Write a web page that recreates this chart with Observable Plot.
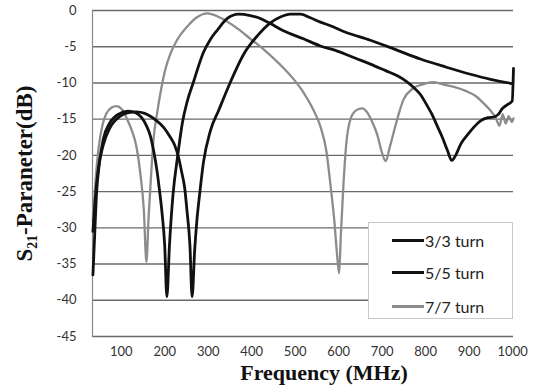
<!DOCTYPE html>
<html>
<head>
<meta charset="utf-8">
<script src="https://cdn.jsdelivr.net/npm/d3@7"></script>
<script src="https://cdn.jsdelivr.net/npm/@observablehq/plot@0.6"></script>
<style>
  html, body { margin: 0; padding: 0; background: #fff; }
  #chart { position: relative; width: 540px; height: 391px; }
  #legend {
    position: absolute; left: 368px; top: 222px; width: 145px; height: 97px;
    background: #fff; border: 1px solid #c8c8c8; box-sizing: border-box;
    font-family: Lato, "Open Sans", sans-serif; font-size: 16px; color: #222;
  }
  #legend .item { position: absolute; left: 23px; height: 20px; display: flex; align-items: center; }
  #legend .sw { width: 32px; height: 3px; margin-right: 1px; }
</style>
</head>
<body>
<div id="chart"></div>
<script>
// ---- data (frequency in MHz, S21 in dB) ----
const seriesNames = ["3/3 turn", "5/5 turn", "7/7 turn"];
const seriesColors = ["#111111", "#111111", "#8c8c8c"];

const f77 = [35,41,48,57,66,78,89,101,112,124,135,144,152,158,163,169,174,183,193,202,213,229,252,275,298,328,363,397,432,466,494,519,540,558,572,581,590,596,601,605,611,619,632,646,655,666,678,689,698,708,717,731,749,770,793,818,846,869,892,915,933,949,961,970,977,984,991,998,1002];
const s77 = [-29,-23.5,-19,-15.8,-14.2,-13.4,-13.2,-13.6,-14.8,-16.5,-18.8,-22.5,-27.5,-34.7,-28.5,-22.5,-18,-14,-10.5,-8,-6,-4,-2.2,-0.9,-0.4,-1.0,-2.3,-3.9,-5.6,-7.5,-9.3,-11.3,-13.5,-16,-19.5,-24,-29,-33.5,-36.3,-31,-24,-17.5,-14.3,-13.6,-13.5,-14.1,-15.5,-17.2,-19.3,-20.8,-19,-15.8,-12.3,-10.8,-10.2,-9.9,-10.3,-10.6,-11.1,-11.8,-12.8,-13.8,-14.8,-15.9,-14.3,-15.6,-14.6,-15.4,-14.9];

const f55 = [35,39,43,50,59,73,94,116,133,147,158,167,175,182,188,194,200,205,211,219,230,241,252,266,289,305,321,344,370,397,420,443,473,519,558,597,639,673,708,735,754,772,788,804,816,827,839,850,860,869,881,897,911,927,943,957,966,977,988,999,1002];
const s55 = [-36.5,-31,-25.5,-21,-17.7,-15.6,-14.3,-13.9,-14.1,-14.8,-15.9,-17.3,-19.5,-22,-24.8,-28,-32.4,-39.5,-32.4,-25.5,-20,-15.4,-12.5,-9.9,-5.8,-4.0,-2.7,-1.1,-0.5,-0.7,-1.1,-1.8,-2.8,-3.9,-4.9,-5.6,-6.6,-7.4,-8.3,-9.0,-9.7,-10.6,-11.6,-13.2,-14.5,-16,-17.6,-19.3,-20.7,-20,-18.4,-17.1,-16.1,-15.2,-14.8,-14.7,-14.4,-13.5,-13,-12.5,-8];

const f33 = [35,39,47,59,74,97,117,135,154,167,181,197,213,223,232,239,246,251,258,263,269,274,281,289,305,324,351,381,413,443,466,489,512,535,558,581,616,673,731,788,846,903,949,1000];
const s33 = [-30.5,-27,-22,-18.5,-16.2,-14.6,-14.1,-14.0,-14.2,-14.6,-15.2,-16.1,-17.5,-18.6,-20.3,-22.3,-24.5,-27.5,-32.4,-39.5,-33,-29,-25,-21,-16.6,-13.8,-9.9,-6.1,-3.5,-1.7,-0.9,-0.5,-0.5,-1.0,-1.6,-2.1,-3.0,-4.1,-5.4,-6.7,-7.8,-8.8,-9.5,-10.1];

const xTicks = [100,200,300,400,500,600,700,800,900,1000];
const yTicks = [0,-5,-10,-15,-20,-25,-30,-35,-40,-45];
const xLabel = "Frequency (MHz)";
const yLabel = "S₂₁-Paraneter(dB)";

const toRows = (fs, ss, name) => fs.map((f, i) => ({f, s: ss[i], name}));
const d33 = toRows(f33, s33, seriesNames[0]);
const d55 = toRows(f55, s55, seriesNames[1]);
const d77 = toRows(f77, s77, seriesNames[2]);

const chart = Plot.plot({
  width: 540, height: 391,
  marginLeft: 92, marginRight: 27, marginTop: 10, marginBottom: 55,
  x: {domain: [34, 1002]},
  y: {domain: [-45, 0]},
  style: {fontFamily: "Lato, sans-serif", fontSize: "13px", color: "#333", background: "#fff"},
  marks: [
    Plot.gridY(yTicks, {stroke: "#6a6a6a", strokeOpacity: 1, strokeWidth: 1.4}),
    Plot.frame({anchor: "left", stroke: "#8a8a8a", strokeWidth: 1.2}),
    Plot.axisY(yTicks, {tickSize: 0, tickPadding: 16, label: null, fill: "#333", tickFormat: d => String(d)}),
    Plot.axisX(xTicks, {tickSize: 0, tickPadding: 10, label: null, fill: "#333", tickFormat: d => String(d)}),
    Plot.line(d77, {x: "f", y: "s", stroke: seriesColors[2], strokeWidth: 2.3, curve: "monotone-x"}),
    Plot.line(d55, {x: "f", y: "s", stroke: seriesColors[1], strokeWidth: 2.8, curve: "monotone-x"}),
    Plot.line(d33, {x: "f", y: "s", stroke: seriesColors[0], strokeWidth: 2.8, curve: "monotone-x"}),
    Plot.text([yLabel], {frameAnchor: "left", textAnchor: "middle", dx: -68, rotate: -90, fontFamily: "Liberation Serif, serif", fontWeight: "bold", fontSize: 23, fill: "#111"}),
    Plot.text([xLabel], {frameAnchor: "bottom", textAnchor: "middle", dx: 21, dy: 43, fontFamily: "Liberation Serif, serif", fontWeight: "bold", fontSize: 22, fill: "#111"})
  ]
});

const root = document.getElementById("chart");
root.appendChild(chart);

// legend
const legend = document.createElement("div");
legend.id = "legend";
const tops = [7, 39, 73];
seriesNames.forEach((n, i) => {
  const it = document.createElement("div");
  it.className = "item";
  it.style.top = tops[i] + "px";
  const sw = document.createElement("span");
  sw.className = "sw";
  sw.style.background = seriesColors[i];
  const tx = document.createElement("span");
  tx.textContent = n;
  it.appendChild(sw); it.appendChild(tx);
  legend.appendChild(it);
});
root.appendChild(legend);
</script>
</body>
</html>
